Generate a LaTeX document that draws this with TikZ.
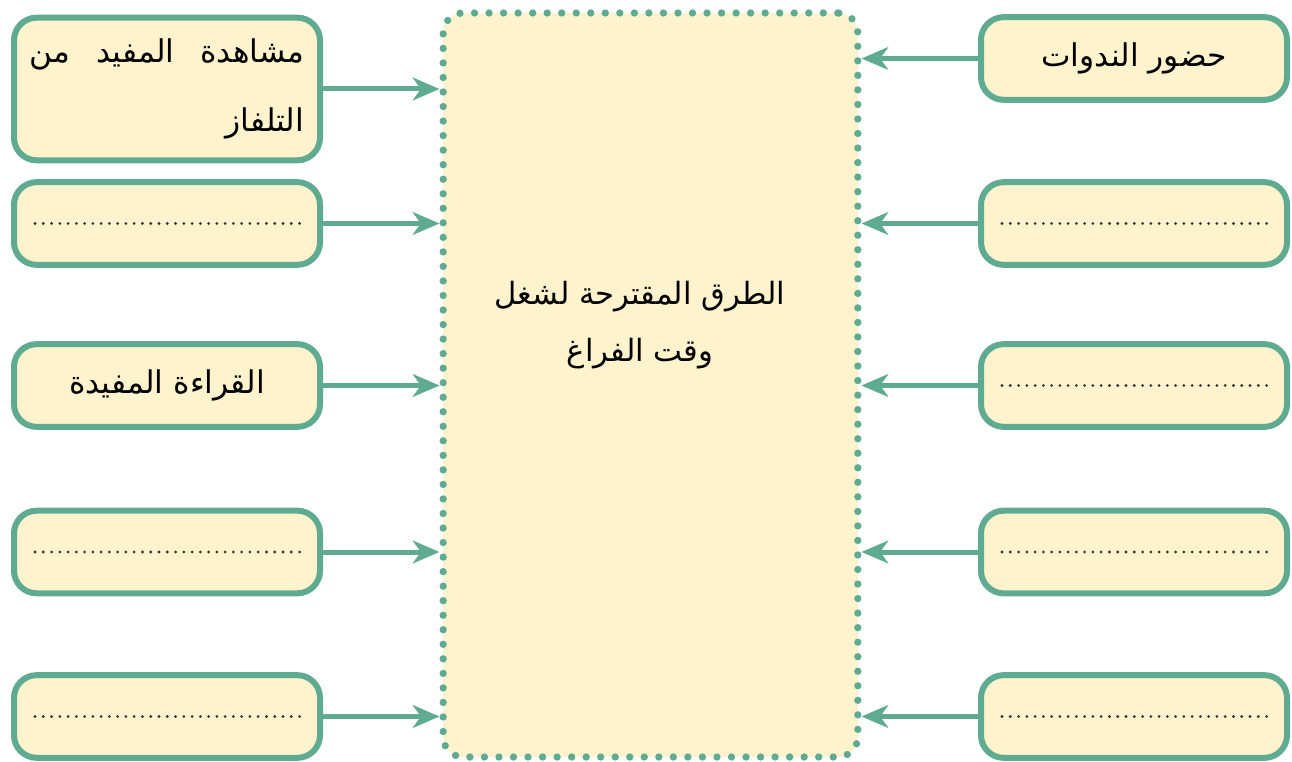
\documentclass[tikz,border=0pt]{standalone}
\usepackage{fontspec}
\newfontfamily\arabicfont[Script=Arabic]{DejaVu Sans}
\TeXXeTstate=1
\usetikzlibrary{arrows.meta}
\definecolor{leaf}{RGB}{94,171,146}
\definecolor{cream}{RGB}{255,243,205}
\begin{document}
\begin{tikzpicture}[x=0.75pt,y=-0.75pt,
  item/.style={draw=leaf, fill=cream, line width=4.5pt, rounded corners=17pt,
    minimum width=229.5pt, minimum height=62pt, inner sep=0pt,
    font=\arabicfont\fontsize{23.5}{28}\selectfont},
  hub/.style={draw=leaf, fill=cream, line width=5.5pt, line cap=round,
    dash pattern=on 0pt off 10.9pt, rounded corners=15pt,
    minimum width=311pt, minimum height=558pt, inner sep=0pt},
  title/.style={font=\arabicfont\fontsize{23}{43}\selectfont, align=center, inner sep=0pt},
  link/.style={draw=leaf, line width=3.75pt, -{Stealth[length=20pt,width=17pt,inset=6pt]}},
  blank/.style={draw=black!80, line width=2.3pt, line cap=round, dash pattern=on 0pt off 6.2pt}
]
\useasboundingbox (0,0) rectangle (1292,762);

% central box and its title
\node[hub] (c) at (650.5,385) {};
\node[title] (ct) at (640,325) {\beginR الطرق المقترحة لشغل\endR\\\beginR وقت الفراغ\endR};

% left column
\node[item, minimum height=107pt, align=right,
  font=\arabicfont\fontsize{23.5}{52}\selectfont] (l1) at (167,89)
  {\beginR مشاهدة\hspace{12pt} المفيد\hspace{12pt} من\endR\\\beginR التلفاز\endR};
\node[item] (l2) at (167,223.5) {};
\node[item] (l3) at (167,385.5) {\beginR القراءة المفيدة\endR};
\node[item] (l4) at (167,552) {};
\node[item] (l5) at (167,716.5) {};

% right column
\node[item] (r1) at (1134,58.5) {\beginR حضور الندوات\endR};
\node[item] (r2) at (1134,223.5) {};
\node[item] (r3) at (1134,385.5) {};
\node[item] (r4) at (1134,552) {};
\node[item] (r5) at (1134,716.5) {};

% blank answer lines
\foreach \b in {l2,l4,l5,r2,r3,r4,r5}
  \draw[blank] ([xshift=18pt]\b.west) -- ([xshift=-12pt]\b.east);

% arrows into the central box
\foreach \b in {l1,l2,l3,l4,l5}
  \draw[link] (\b.east) -- (\b.east -| c.west);
\foreach \b in {r1,r2,r3,r4,r5}
  \draw[link] (\b.west) -- (\b.west -| c.east);
\end{tikzpicture}
\end{document}
